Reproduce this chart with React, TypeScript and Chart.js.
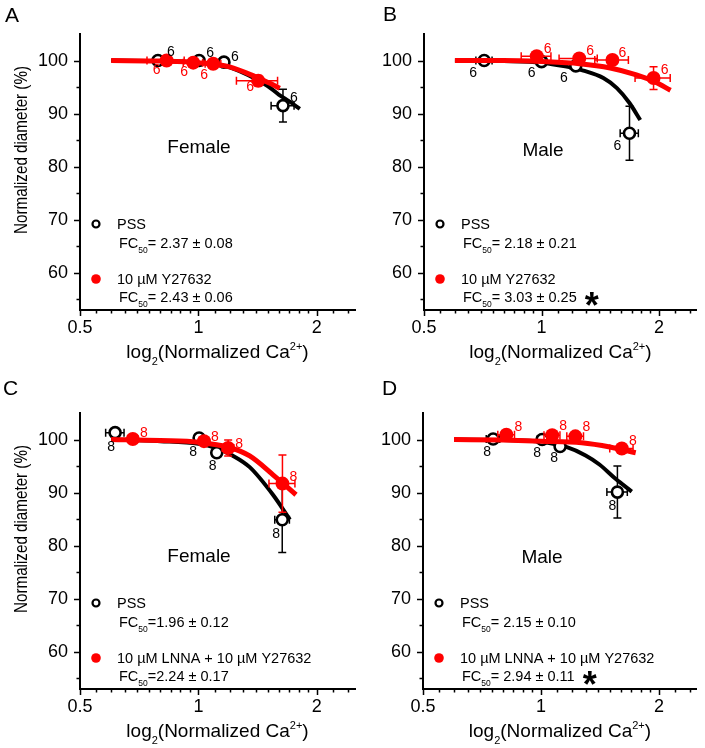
import React, { useEffect, useRef } from 'react';
import { Chart, registerables } from 'chart.js';
Chart.register(...registerables);

const FONT = '"Liberation Sans", Arial, Helvetica, sans-serif';
const RED = '#ff0000';

// ---- axes ----
const X_MIN = 0.5;
const X_MAX = 2.5;
const X_MAJOR = [0.5, 1, 2];
const X_MINOR = [0.55, 0.6, 0.65, 0.7, 0.75, 0.8, 0.85, 0.9, 0.95, 1.1, 1.2, 1.3, 1.4, 1.5, 1.6, 1.7, 1.8, 1.9, 2.2, 2.4];
const Y_MIN = 53;
const Y_MAX = 105;
const Y_MAJOR = [60, 70, 80, 90, 100];
const Y_MINOR = [55, 65, 75, 85, 95];

// ---- Panel A (Female, Y27632) ----
const A_pssX = [0.789, 1.004, 1.161, 1.64];
const A_pssY = [100.0, 100.0, 99.7, 91.5];
const A_pssXErr = [0.02, 0.02, 0.03, 0.11];
const A_pssYErr = [0.3, 0.3, 0.5, 3.1];
const A_pssN = [6, 6, 6, 6];
const A_pssFitX = [0.6, 0.8, 1.0, 1.2, 1.4, 1.5, 1.6, 1.71, 1.81];
const A_pssFitY = [100, 99.9, 99.6, 98.7, 96.5, 95.2, 93.6, 92.2, 90.9];
const A_trtX = [0.83, 0.97, 1.09, 1.419];
const A_trtY = [100.0, 99.6, 99.4, 96.2];
const A_trtXErr = [0.09, 0.055, 0.05, 0.17];
const A_trtYErr = [0.3, 0.3, 0.4, 1.0];
const A_trtN = [6, 6, 6, 6];
const A_trtFitX = [0.6, 0.8, 1.0, 1.2, 1.4, 1.5, 1.61];
const A_trtFitY = [100, 99.9, 99.6, 98.8, 96.9, 95.9, 94.8];

// ---- Panel B (Male, Y27632) ----
const B_pssX = [0.713, 1.0, 1.224, 1.68];
const B_pssY = [100.0, 99.8, 99.0, 86.3];
const B_pssXErr = [0.034, 0.03, 0.04, 0.09];
const B_pssYErr = [0.5, 0.4, 0.5, 5.1];
const B_pssN = [6, 6, 6, 6];
const B_pssFitX = [0.6, 0.8, 1.0, 1.15, 1.28, 1.44, 1.56, 1.68, 1.79];
const B_pssFitY = [100, 99.9, 99.6, 98.9, 98.1, 96.7, 94.8, 92.0, 88.8];
const B_trtX = [0.972, 1.249, 1.519, 1.936];
const B_trtY = [100.8, 100.4, 100.1, 96.7];
const B_trtXErr = [0.085, 0.14, 0.15, 0.2];
const B_trtYErr = [0.5, 0.5, 0.4, 2.15];
const B_trtN = [6, 6, 6, 6];
const B_trtFitX = [0.6, 0.8, 1.0, 1.25, 1.5, 1.75, 1.95, 2.14];
const B_trtFitY = [100, 100, 99.8, 99.4, 98.6, 97.3, 96.0, 94.4];

// ---- Panel C (Female, LNNA + Y27632) ----
const C_pssX = [0.614, 1.004, 1.113, 1.633];
const C_pssY = [101.3, 100.3, 97.5, 84.9];
const C_pssXErr = [0.033, 0.02, 0.03, 0.07];
const C_pssYErr = [0.4, 0.3, 0.5, 6.2];
const C_pssN = [8, 8, 8, 8];
const C_pssFitX = [0.6, 0.8, 1.0, 1.11, 1.22, 1.35, 1.55, 1.708];
const C_pssFitY = [100, 99.7, 99.2, 98.4, 97.0, 94.8, 89.5, 84.9];
const C_trtX = [0.681, 1.033, 1.19, 1.635];
const C_trtY = [100.1, 99.7, 98.4, 91.7];
const C_trtXErr = [0.02, 0.03, 0.04, 0.124];
const C_trtYErr = [0.4, 0.5, 1.5, 5.4];
const C_trtN = [8, 8, 8, 8];
const C_trtFitX = [0.6, 0.8, 1.0, 1.2, 1.35, 1.55, 1.77];
const C_trtFitY = [100, 99.8, 99.5, 98.5, 96.9, 93.3, 89.6];

// ---- Panel D (Male, LNNA + Y27632) ----
const D_pssX = [0.755, 1.007, 1.119, 1.567];
const D_pssY = [100.1, 100.0, 98.7, 90.1];
const D_pssXErr = [0.03, 0.03, 0.03, 0.094];
const D_pssYErr = [0.4, 0.4, 0.5, 4.9];
const D_pssN = [8, 8, 8, 8];
const D_pssFitX = [0.6, 0.8, 1.0, 1.16, 1.3, 1.41, 1.55, 1.705];
const D_pssFitY = [100, 99.9, 99.6, 98.6, 97.0, 95.3, 92.6, 90.2];
const D_trtX = [0.816, 1.068, 1.224, 1.608];
const D_trtY = [100.9, 100.8, 100.6, 98.3];
const D_trtXErr = [0.04, 0.05, 0.06, 0.11];
const D_trtYErr = [0.7, 0.6, 0.5, 0.8];
const D_trtN = [8, 8, 8, 8];
const D_trtFitX = [0.6, 0.8, 1.0, 1.27, 1.5, 1.745];
const D_trtFitY = [100, 99.9, 99.7, 99.4, 98.6, 97.5];

// ---- legend texts ----
const A_pssFc = '= 2.37 ± 0.08';
const A_trtFc = '= 2.43 ± 0.06';
const B_pssFc = '= 2.18 ± 0.21';
const B_trtFc = '= 3.03 ± 0.25';
const C_pssFc = '=1.96 ± 0.12';
const C_trtFc = '=2.24 ± 0.17';
const D_pssFc = '= 2.15 ± 0.10';
const D_trtFc = '= 2.94 ± 0.11';

// ---- label offsets (px) for the n annotations ----
const A_pssNOff = [[13, -8], [11, -7], [11, -5], [11, -8]];
const A_trtNOff = [[-10, 10], [-9, 9], [-9, 11], [-8, 6]];
const B_pssNOff = [[-11, 13], [-10, 12], [-12, 12], [-12, 13]];
const B_trtNOff = [[11, -7], [11, -7], [10, -7], [11, -8]];
const C_pssNOff = [[-4, 15], [-6, 14], [-4, 13], [-6, 14]];
const C_trtNOff = [[11, -6], [11, -4], [11, -4], [11, -6]];
const D_pssNOff = [[-6, 13], [-5, 14], [-6, 12], [-5, 14]];
const D_trtNOff = [[12, -8], [11, -9], [11, -9], [11, -7]];

interface SeriesSpec {
  x: number[]; y: number[]; xe: number[]; ye: number[]; n: number[]; nOff: number[][];
  fitX: number[]; fitY: number[]; color: string;
}
interface PanelSpec {
  letter: string; letterPos: [number, number]; group: string; groupDy: number;
  left: number; top: number; w: number; h: number;
  area: { l: number; t: number; r: number; b: number };
  yTitle: boolean; pss: SeriesSpec; trt: SeriesSpec;
  pssFc: string; trtLabel: string; trtFc: string; star: boolean;
}

const ser = (x: number[], y: number[], xe: number[], ye: number[], n: number[], nOff: number[][], fitX: number[], fitY: number[], color: string): SeriesSpec =>
  ({ x, y, xe, ye, n, nOff, fitX, fitY, color });

const PANELS: PanelSpec[] = [
  {
    letter: 'A', letterPos: [5, 22], group: 'Female', groupDy: 114,
    left: 0, top: 0, w: 365, h: 375, area: { l: 80, t: 34, r: 355, b: 310 }, yTitle: true,
    pss: ser(A_pssX, A_pssY, A_pssXErr, A_pssYErr, A_pssN, A_pssNOff, A_pssFitX, A_pssFitY, '#000'),
    trt: ser(A_trtX, A_trtY, A_trtXErr, A_trtYErr, A_trtN, A_trtNOff, A_trtFitX, A_trtFitY, RED),
    pssFc: A_pssFc, trtLabel: '10 µM Y27632', trtFc: A_trtFc, star: false,
  },
  {
    letter: 'B', letterPos: [33, 21], group: 'Male', groupDy: 117,
    left: 350, top: 0, w: 355, h: 375, area: { l: 74, t: 34, r: 349, b: 310 }, yTitle: false,
    pss: ser(B_pssX, B_pssY, B_pssXErr, B_pssYErr, B_pssN, B_pssNOff, B_pssFitX, B_pssFitY, '#000'),
    trt: ser(B_trtX, B_trtY, B_trtXErr, B_trtYErr, B_trtN, B_trtNOff, B_trtFitX, B_trtFitY, RED),
    pssFc: B_pssFc, trtLabel: '10 µM Y27632', trtFc: B_trtFc, star: true,
  },
  {
    letter: 'C', letterPos: [3, 20], group: 'Female', groupDy: 144,
    left: 0, top: 375, w: 365, h: 373, area: { l: 80, t: 38, r: 355, b: 314 }, yTitle: true,
    pss: ser(C_pssX, C_pssY, C_pssXErr, C_pssYErr, C_pssN, C_pssNOff, C_pssFitX, C_pssFitY, '#000'),
    trt: ser(C_trtX, C_trtY, C_trtXErr, C_trtYErr, C_trtN, C_trtNOff, C_trtFitX, C_trtFitY, RED),
    pssFc: C_pssFc, trtLabel: '10 µM LNNA + 10 µM Y27632', trtFc: C_trtFc, star: false,
  },
  {
    letter: 'D', letterPos: [32, 20], group: 'Male', groupDy: 145,
    left: 350, top: 375, w: 355, h: 373, area: { l: 73, t: 38, r: 348, b: 314 }, yTitle: false,
    pss: ser(D_pssX, D_pssY, D_pssXErr, D_pssYErr, D_pssN, D_pssNOff, D_pssFitX, D_pssFitY, '#000'),
    trt: ser(D_trtX, D_trtY, D_trtXErr, D_trtYErr, D_trtN, D_trtNOff, D_trtFitX, D_trtFitY, RED),
    pssFc: D_pssFc, trtLabel: '10 µM LNNA + 10 µM Y27632', trtFc: D_trtFc, star: true,
  },
];

const zip = (xs: number[], ys: number[]) => xs.map((x, i) => ({ x, y: ys[i] }));

type Part = { t: string; size: number; dy: number; bold?: boolean };
function rich(ctx: CanvasRenderingContext2D, parts: Part[], x: number, y: number, align: 'left' | 'center'): number {
  let total = 0;
  for (const p of parts) { ctx.font = `${p.bold ? 'bold ' : ''}${p.size}px ${FONT}`; total += ctx.measureText(p.t).width; }
  let cx = align === 'center' ? x - total / 2 : x;
  ctx.textAlign = 'left';
  ctx.textBaseline = 'alphabetic';
  for (const p of parts) {
    ctx.font = `${p.bold ? 'bold ' : ''}${p.size}px ${FONT}`;
    ctx.fillText(p.t, cx, y + p.dy);
    cx += ctx.measureText(p.t).width;
  }
  return cx;
}

function makePlugin(p: PanelSpec) {
  return {
    id: 'panelDecor',
    beforeDatasetDraw(chart: any, args: any) {
      const ds = chart.data.datasets[args.index];
      const s: SeriesSpec | undefined = ds.errSeries;
      if (!s) return;
      const ctx: CanvasRenderingContext2D = chart.ctx;
      const xs = chart.scales.x, ys = chart.scales.y;
      ctx.save();
      ctx.strokeStyle = s.color;
      ctx.lineWidth = 1.5;
      const cap = 4;
      s.x.forEach((xv, i) => {
        const yv = s.y[i];
        const px = xs.getPixelForValue(xv), py = ys.getPixelForValue(yv);
        const x1 = xs.getPixelForValue(xv - s.xe[i]), x2 = xs.getPixelForValue(xv + s.xe[i]);
        const y1 = ys.getPixelForValue(yv - s.ye[i]), y2 = ys.getPixelForValue(yv + s.ye[i]);
        ctx.beginPath();
        ctx.moveTo(x1, py); ctx.lineTo(x2, py);
        ctx.moveTo(x1, py - cap); ctx.lineTo(x1, py + cap);
        ctx.moveTo(x2, py - cap); ctx.lineTo(x2, py + cap);
        ctx.moveTo(px, y1); ctx.lineTo(px, y2);
        ctx.moveTo(px - cap, y1); ctx.lineTo(px + cap, y1);
        ctx.moveTo(px - cap, y2); ctx.lineTo(px + cap, y2);
        ctx.stroke();
      });
      ctx.restore();
    },
    afterDraw(chart: any) {
      const ctx: CanvasRenderingContext2D = chart.ctx;
      const xs = chart.scales.x, ys = chart.scales.y;
      const a = chart.chartArea;
      ctx.save();
      // axis ticks (outward)
      ctx.strokeStyle = '#000';
      ctx.lineWidth = 1.5;
      ctx.beginPath();
      Y_MAJOR.forEach(v => { const py = Math.round(ys.getPixelForValue(v)) + 0.5; ctx.moveTo(a.left - 6, py); ctx.lineTo(a.left, py); });
      Y_MINOR.forEach(v => { const py = Math.round(ys.getPixelForValue(v)) + 0.5; ctx.moveTo(a.left - 3.5, py); ctx.lineTo(a.left, py); });
      X_MAJOR.forEach(v => { const px = Math.round(xs.getPixelForValue(v)) + 0.5; ctx.moveTo(px, a.bottom); ctx.lineTo(px, a.bottom + 6); });
      X_MINOR.forEach(v => { const px = Math.round(xs.getPixelForValue(v)) + 0.5; ctx.moveTo(px, a.bottom); ctx.lineTo(px, a.bottom + 3.5); });
      ctx.stroke();

      // n labels
      ctx.textAlign = 'center';
      ctx.textBaseline = 'middle';
      ctx.font = `14px ${FONT}`;
      [p.pss, p.trt].forEach(s => {
        ctx.fillStyle = s.color;
        s.x.forEach((xv, i) => {
          const px = xs.getPixelForValue(xv), py = ys.getPixelForValue(s.y[i]);
          ctx.fillText(String(s.n[i]), px + s.nOff[i][0], py + s.nOff[i][1]);
        });
      });

      // group label
      ctx.fillStyle = '#000';
      ctx.font = `19px ${FONT}`;
      ctx.fillText(p.group, a.left + 119, a.top + p.groupDy);

      // legend
      const lx = a.left + 16;
      const tx = a.left + 37;
      const rows = [a.bottom - 86, a.bottom - 67, a.bottom - 31, a.bottom - 13];
      ctx.beginPath();
      ctx.arc(lx, rows[0], 3.5, 0, Math.PI * 2);
      ctx.fillStyle = '#fff'; ctx.fill();
      ctx.lineWidth = 2.2; ctx.strokeStyle = '#000'; ctx.stroke();
      ctx.beginPath();
      ctx.arc(lx, rows[2], 4.8, 0, Math.PI * 2);
      ctx.fillStyle = RED; ctx.fill();
      ctx.fillStyle = '#000';
      ctx.textAlign = 'left';
      ctx.font = `14.5px ${FONT}`;
      ctx.fillText('PSS', tx, rows[0] + 0.5);
      rich(ctx, [{ t: 'FC', size: 14.5, dy: 0 }, { t: '50', size: 8.5, dy: 4.5 }, { t: p.pssFc, size: 14.5, dy: 0 }], tx + 2, rows[1] + 5, 'left');
      ctx.textBaseline = 'middle';
      ctx.font = `14.5px ${FONT}`;
      ctx.fillText(p.trtLabel, tx, rows[2] + 0.5);
      const endX = rich(ctx, [{ t: 'FC', size: 14.5, dy: 0 }, { t: '50', size: 8.5, dy: 4.5 }, { t: p.trtFc, size: 14.5, dy: 0 }], tx + 2, rows[3] + 5, 'left');
      if (p.star) {
        ctx.font = `bold 36px ${FONT}`;
        ctx.textAlign = 'center';
        ctx.textBaseline = 'alphabetic';
        ctx.fillText('*', endX + 15, rows[3] + 21);
      }

      // x title
      ctx.fillStyle = '#000';
      rich(ctx, [
        { t: 'log', size: 19, dy: 0 },
        { t: '2', size: 11, dy: 7 },
        { t: '(Normalized Ca', size: 19, dy: 0 },
        { t: '2+', size: 11, dy: -8 },
        { t: ')', size: 19, dy: 0 },
      ], (a.left + a.right) / 2, a.bottom + 48, 'center');

      // y title
      if (p.yTitle) {
        ctx.save();
        ctx.translate(22, a.top + 116);
        ctx.rotate(-Math.PI / 2);
        ctx.font = `19px ${FONT}`;
        const txt = 'Normalized diameter (%)';
        const w = ctx.measureText(txt).width;
        ctx.scale(168 / w, 1);
        ctx.textAlign = 'center';
        ctx.textBaseline = 'middle';
        ctx.fillText(txt, 0, 0);
        ctx.restore();
      }

      // panel letter
      ctx.font = `21px ${FONT}`;
      ctx.textAlign = 'left';
      ctx.textBaseline = 'alphabetic';
      ctx.fillStyle = '#000';
      ctx.fillText(p.letter, p.letterPos[0], p.letterPos[1]);
      ctx.restore();
    },
  };
}

function makeConfig(p: PanelSpec): any {
  const { area, w, h } = p;
  return {
    type: 'scatter',
    data: {
      datasets: [
        {
          label: 'PSS fit', data: zip(p.pss.fitX, p.pss.fitY), showLine: true,
          borderColor: '#000', borderWidth: 4, pointRadius: 0, cubicInterpolationMode: 'monotone', order: 4, fill: false,
        },
        {
          label: 'PSS', data: zip(p.pss.x, p.pss.y), showLine: false, pointRadius: 5.5, pointBorderWidth: 2.6,
          pointBackgroundColor: '#fff', pointBorderColor: '#000', order: 3, errSeries: p.pss,
        },
        {
          label: 'Treatment fit', data: zip(p.trt.fitX, p.trt.fitY), showLine: true,
          borderColor: RED, borderWidth: 5, pointRadius: 0, cubicInterpolationMode: 'monotone', order: 2, fill: false,
        },
        {
          label: p.trtLabel, data: zip(p.trt.x, p.trt.y), showLine: false, pointRadius: 7, pointBorderWidth: 0,
          pointBackgroundColor: RED, pointBorderColor: RED, order: 1, errSeries: p.trt,
        },
      ],
    },
    options: {
      animation: false,
      responsive: false,
      devicePixelRatio: 1,
      events: [],
      layout: { padding: { left: 0, top: area.t, right: w - area.r, bottom: 0 } },
      plugins: { legend: { display: false }, tooltip: { enabled: false }, title: { display: false } },
      scales: {
        x: {
          type: 'logarithmic', min: X_MIN, max: X_MAX, position: 'bottom',
          grid: { display: false, drawTicks: false },
          border: { display: true, color: '#000', width: 2 },
          ticks: {
            color: '#000', font: { family: FONT, size: 18 }, padding: 7, autoSkip: false, maxRotation: 0,
            callback: (v: any) => String(v),
          },
          afterBuildTicks: (s: any) => { s.ticks = X_MAJOR.map(v => ({ value: v })); },
          afterFit: (s: any) => { s.height = h - area.b; },
        },
        y: {
          type: 'linear', min: Y_MIN, max: Y_MAX, position: 'left',
          grid: { display: false, drawTicks: false },
          border: { display: true, color: '#000', width: 2 },
          ticks: { color: '#000', font: { family: FONT, size: 18 }, padding: 12, autoSkip: false },
          afterBuildTicks: (s: any) => { s.ticks = Y_MAJOR.map(v => ({ value: v })); },
          afterFit: (s: any) => { s.width = area.l; },
        },
      },
    },
    plugins: [makePlugin(p)],
  };
}

function Panel({ spec }: { spec: PanelSpec }) {
  const ref = useRef<HTMLCanvasElement>(null);
  useEffect(() => {
    const chart = new Chart(ref.current as HTMLCanvasElement, makeConfig(spec));
    return () => chart.destroy();
  }, [spec]);
  return (
    <canvas
      ref={ref}
      width={spec.w}
      height={spec.h}
      style={{ position: 'absolute', left: spec.left, top: spec.top, width: spec.w, height: spec.h }}
    />
  );
}

export default function App() {
  return (
    <div style={{ position: 'absolute', left: 0, top: 0, width: 705, height: 748, background: '#fff', overflow: 'hidden' }}>
      {PANELS.map(p => <Panel key={p.letter} spec={p} />)}
    </div>
  );
}
